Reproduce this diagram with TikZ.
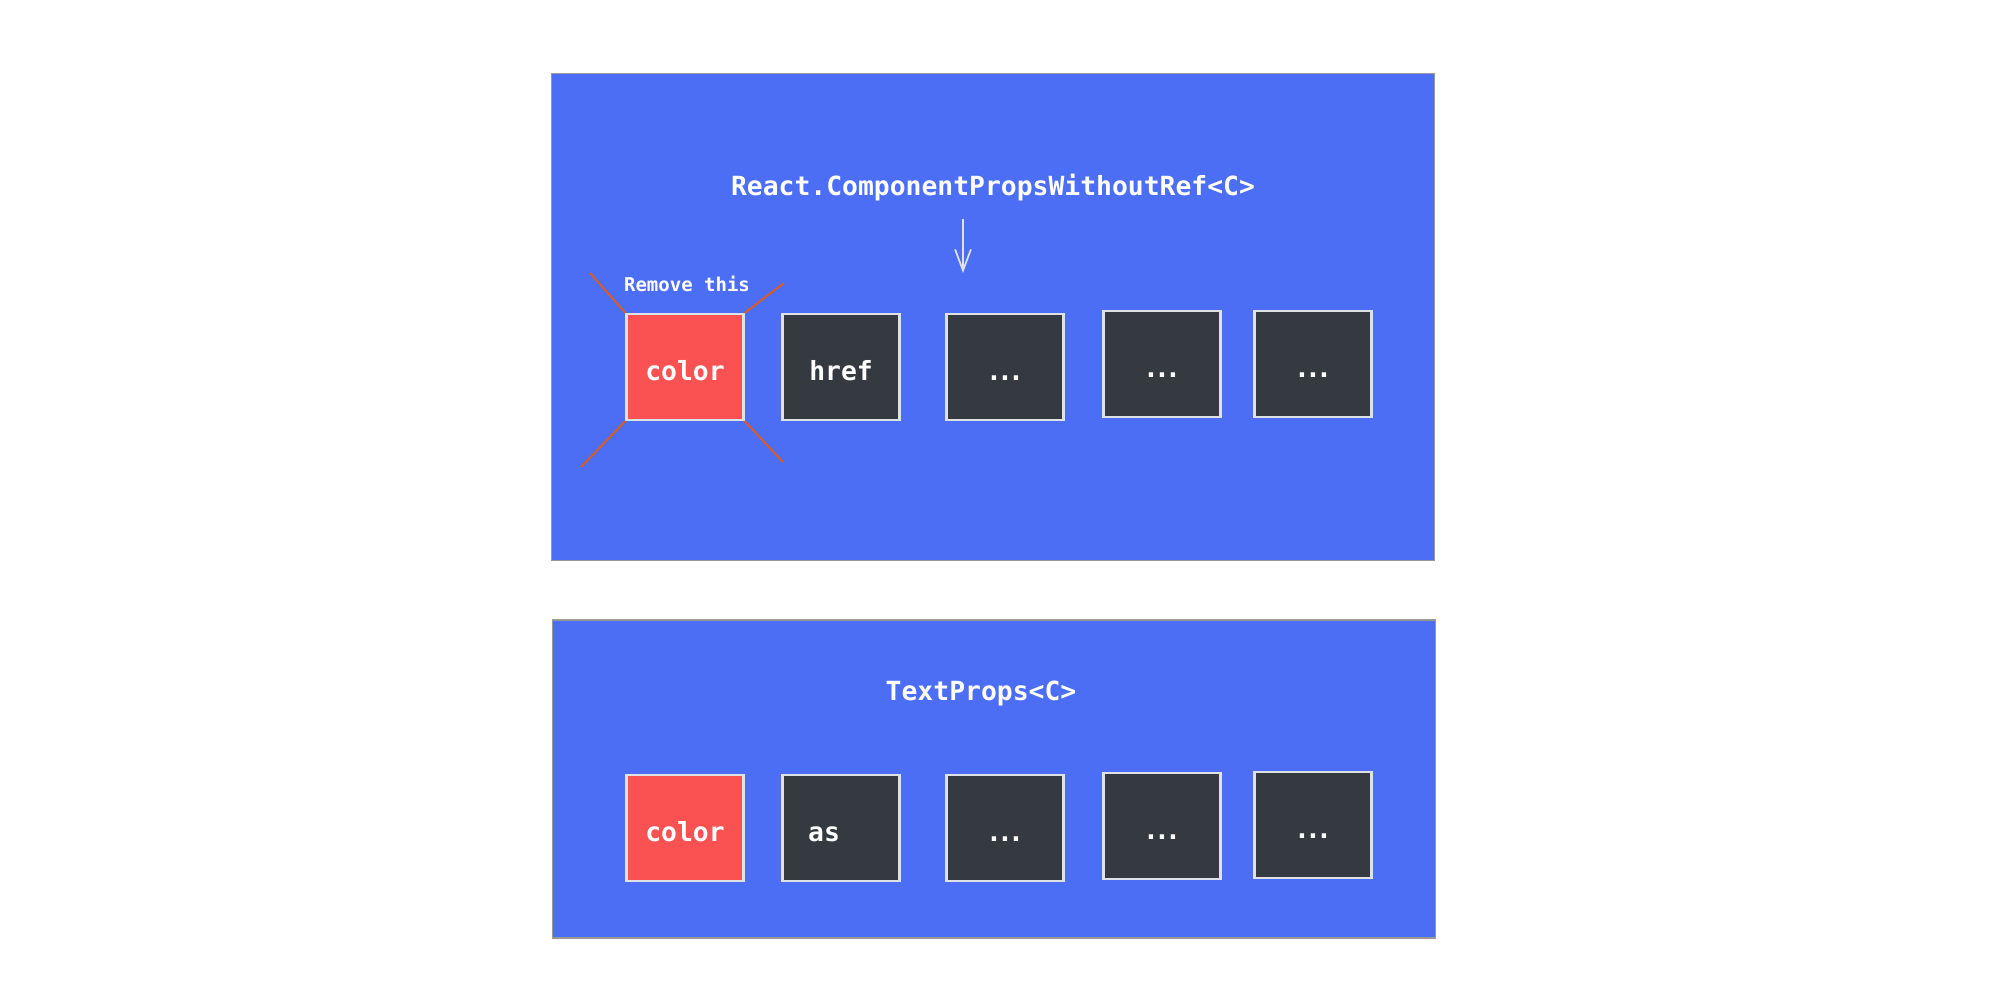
\documentclass[tikz,border=0pt]{standalone}
\usepackage{fontspec}
\setmonofont{DejaVu Sans Mono}
\usepackage{xcolor}
\usepackage{tikz}
\usetikzlibrary{arrows.meta, positioning}

\definecolor{panelblue}{HTML}{4C6EF5}
\definecolor{propred}{HTML}{FA5252}
\definecolor{propdark}{HTML}{343A40}
\definecolor{propedge}{HTML}{DEE2E6}
\definecolor{crossred}{HTML}{E8590C}

\newcommand{\moreprops}{.\kern-1.4pt.\kern-1.4pt.}

\begin{document}
\begin{tikzpicture}[
          x=0.01cm, y=-0.01cm,
          panel/.style={draw=gray!80, line width=0.4pt, fill=panelblue, minimum width=8.82cm},
          prop/.style={draw=propedge, line width=0.6pt, fill=propdark, minimum width=1.17cm, minimum height=1.06cm,
            text=white, font=\ttfamily\bfseries\fontsize{7.5}{9}\selectfont, text height=7.4pt, text depth=0pt},
          removed/.style={prop, fill=propred},
          proptext/.style={text=white, font=\ttfamily\bfseries\fontsize{7.5}{9}\selectfont, inner sep=0pt,
            text height=7.4pt, text depth=0pt},
          heading/.style={text=white, font=\ttfamily\bfseries\fontsize{7.5}{9}\selectfont},
          cross/.style={draw=crossred, line width=0.5pt}
        ]
          \useasboundingbox (0,0) rectangle (2000,984);
          % upper panel
          \node[panel, minimum height=4.87cm] (upper) at (993,317) {};
          \node[heading] (uppertitle) at (993,188) {React.ComponentPropsWithoutRef<C>};
          \coordinate (arrowtop) at (963,219);
          \coordinate (arrowtip) at (963,273);
          \draw[propedge, line width=0.5pt, -{Straight Barb[length=6pt, width=4.5pt]}] (arrowtop) -- (arrowtip);
          \node[removed] (color) at (685,367) {color};
          \node[prop] (href) at (841,367) {href};
          \node[prop] (rest1) at (1005,367) {\moreprops};
          \node[prop] (rest2) at (1162,364) {\moreprops};
          \node[prop] (rest3) at (1313,364) {\moreprops};
          \node[text=white, font=\ttfamily\bfseries\fontsize{5.4}{7}\selectfont] (removenote) at (687,284) {Remove this};
          % cross over color
          \coordinate (xa) at (590,273);
          \coordinate (xb) at (784,283);
          \coordinate (xc) at (581,467);
          \coordinate (xd) at (783,462);
          \draw[cross] (xa) -- (color.north west);
          \draw[cross] (xb) -- (color.north east);
          \draw[cross] (xc) -- (color.south west);
          \draw[cross] (xd) -- (color.south east);
          % lower panel
          \node[panel, minimum height=3.18cm] (lower) at (994,779) {};
          \node[heading] (lowertitle) at (981,693) {TextProps<C>};
          \node[removed] (color2) at (685,828) {color};
          \node[prop] (as) at (841,828) {};
          \node[proptext, right=0.26cm of as.west] (astext) {as};
          \node[prop] (more1) at (1005,828) {\moreprops};
          \node[prop] (more2) at (1162,826) {\moreprops};
          \node[prop] (more3) at (1313,825) {\moreprops};
        \end{tikzpicture}
\end{document}
